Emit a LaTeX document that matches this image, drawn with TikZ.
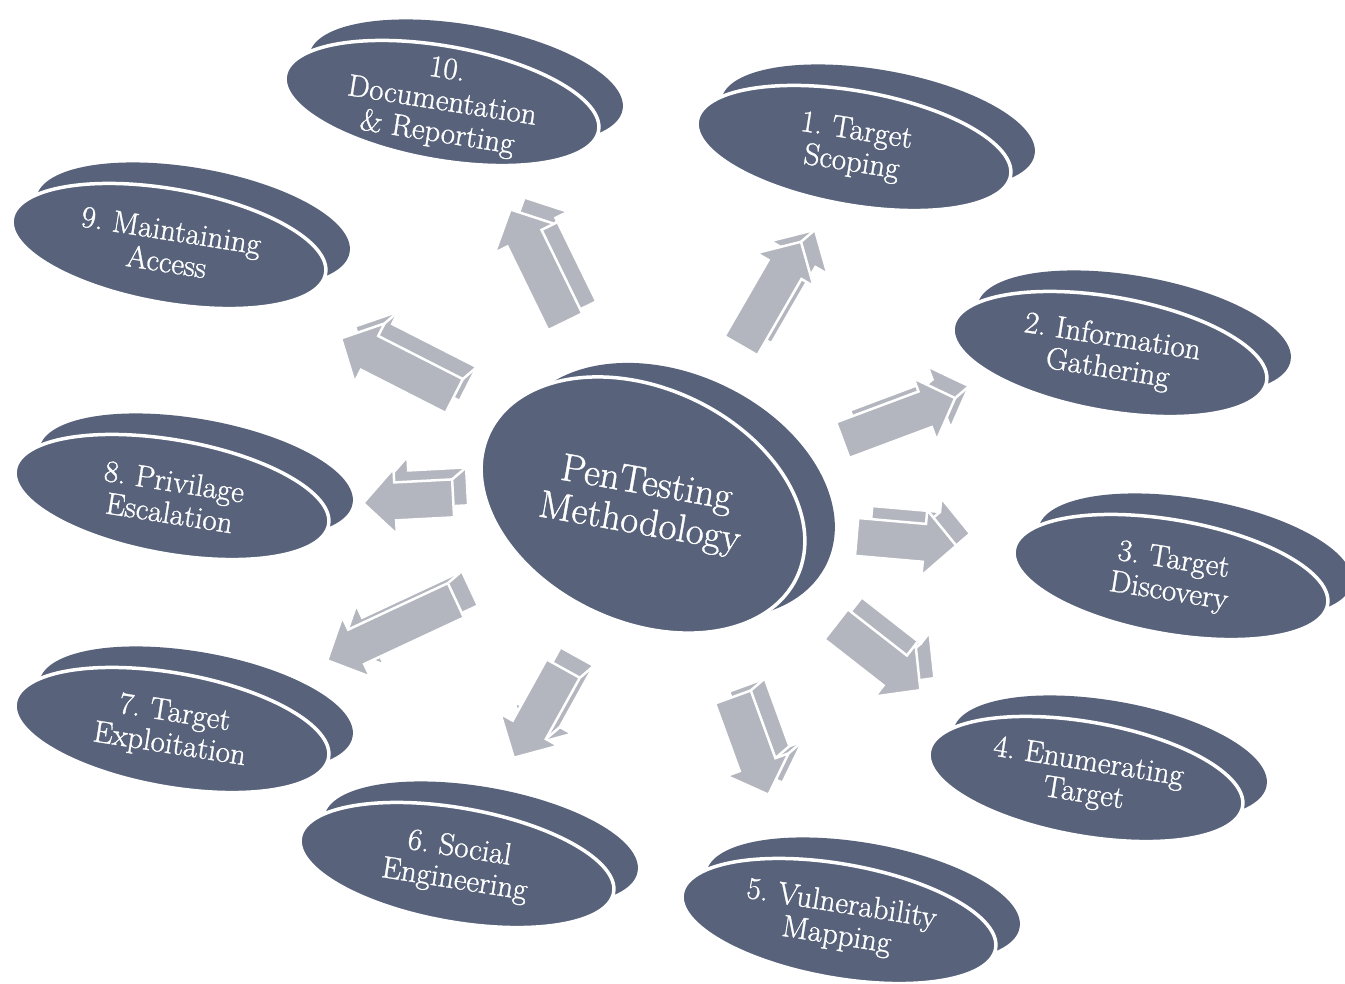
\documentclass[tikz,border=0pt]{standalone}
\usepackage{fontspec}
\setmainfont{Latin Modern Roman}[FakeBold=1]
\usetikzlibrary{calc}
\definecolor{slate}{HTML}{58637B}
\definecolor{arrowgray}{HTML}{B3B6BE}
\frenchspacing

% one stage: a raised disk (back copy, then front face with a white rim) and its label
\newcommand\stagedisk[4]{% #1 name, #2 x, #3 y, #4 label
  \fill[slate, rotate around={-10:(#2+24,#3+21)}] (#2+24,#3+21) ellipse [x radius=159pt, y radius=57pt];
  \filldraw[fill=slate, draw=white, line width=3.5pt, rotate around={-10:(#2,#3)}]
    (#2,#3) ellipse [x radius=159pt, y radius=57pt];
  \node[disktext, rotate=-9] (#1) at (#2,#3) {#4};
}

% a block arrow leaving the hub: #1 name, #2 angle of the tail around the hub,
% #3 distance of the tail from the hub, #4 heading, #5 length
\newcommand\blockarrow[5]{%
  \pic[rotate=#4] (#1) at ($(hub)+(#2:#3)$) {arrowbox={#5}{#4}};
}

\tikzset{
  disktext/.style={text=white, align=center, inner sep=0pt, font=\fontsize{31}{32}\selectfont},
  hubtext/.style={text=white, align=center, inner sep=0pt, font=\fontsize{39}{40}\selectfont},
  boxface/.style={fill=arrowgray, draw=white, line width=2.5pt, line join=miter},
  pics/arrowbox/.style n args={2}{code={%
    % extrusion towards the upper right, expressed in the arrow's own frame
    \pgfmathsetmacro\arrowdx{14*cos(#2)+12*sin(#2)}
    \pgfmathsetmacro\arrowdy{-14*sin(#2)+12*cos(#2)}
    \begin{scope}[shift={(\arrowdx,\arrowdy)}]
      \path[boxface] (0,-19) -- (#1-32,-19) -- (#1-32,-33) -- (#1,0) -- (#1-32,33) -- (#1-32,19) -- (0,19) -- cycle;
    \end{scope}
    \foreach \px/\py in {0/-19, #1-32/-33, #1/0, #1-32/33, #1-32/19, 0/19}
      \draw[white, line width=2.5pt] (\px,\py) -- ++(\arrowdx,\arrowdy);
    \path[boxface] (0,-19) -- (#1-32,-19) -- (#1-32,-33) -- (#1,0) -- (#1-32,33) -- (#1-32,19) -- (0,19) -- cycle;
  }},
}

\begin{document}
\begin{tikzpicture}[x=1pt, y=1pt]
\useasboundingbox (0,0) rectangle (1345,-984);
\clip (0,0) rectangle (1345,-984);
\fill[white] (0,0) rectangle (1345,-984);

% central hub
\coordinate (hub) at (643,-505);
\fill[slate, rotate around={-25:(673,-491)}] (673,-491) ellipse [x radius=170pt, y radius=117pt];
\filldraw[fill=slate, draw=white, line width=3.5pt, rotate around={-25:(hub)}]
  (hub) ellipse [x radius=170pt, y radius=117pt];
\node[hubtext, rotate=-10] (centre) at (hub) {PenTesting\\Methodology};

% arrows from the hub to the stages
\blockarrow{a1}{58.4}{187}{60}{120}
\blockarrow{a2}{18}{210}{20.5}{120}
\blockarrow{a3}{-8.5}{216}{-5}{100}
\blockarrow{a4}{-31.7}{227}{-38}{107}
\blockarrow{a5}{-64.9}{212}{-70}{104}
\blockarrow{a6}{-116}{182}{-119}{102}
\blockarrow{a7}{-153}{210}{-155}{142}
\blockarrow{a8}{178}{190}{183}{90}
\blockarrow{a9}{150}{218}{153}{127}
\blockarrow{a10}{113}{199}{116}{125}

% the ten stages
\stagedisk{s1}{854}{-148}{1. Target\\Scoping}
\stagedisk{s2}{1110}{-354}{2. Information\\Gathering}
\stagedisk{s3}{1171}{-577}{3. Target\\Discovery}
\stagedisk{s4}{1086}{-779}{4. Enumerating\\Target}
\stagedisk{s5}{839}{-921}{5. Vulnerability\\Mapping}
\stagedisk{s6}{457}{-865}{6. Social\\Engineering}
\stagedisk{s7}{172}{-730}{7. Target\\Exploitation}
\stagedisk{s8}{172}{-497}{8. Privilage\\Escalation}
\stagedisk{s9}{169}{-246}{9. Maintaining\\Access}
\stagedisk{s10}{442}{-103}{10.\\Documentation\\\& Reporting}
\end{tikzpicture}
\end{document}
